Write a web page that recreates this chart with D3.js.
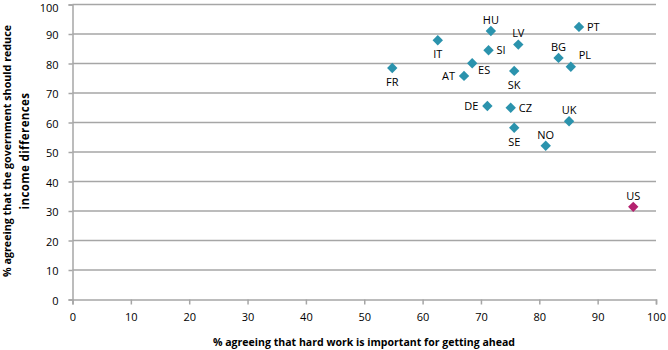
<!DOCTYPE html>
<html><head><meta charset="utf-8">
<script src="https://cdn.jsdelivr.net/npm/d3@7"></script>
<style>
body{margin:0;background:#fff;}
text{font-family:"Open Sans","Liberation Sans",sans-serif;fill:#000;}
</style></head>
<body><svg id="c" width="668" height="350"></svg>
<script>
const countries = ["HU","PT","LV","IT","SI","BG","PL","FR","ES","AT","SK","DE","CZ","UK","SE","NO","US"];
const hardWork = [71.7,86.8,76.4,62.6,71.3,83.3,85.4,54.8,68.5,67.1,75.7,71.1,75.1,85.1,75.7,81.1,96.1];
const reduceInequality = [91.0,92.4,86.4,87.9,84.5,81.9,78.9,78.5,80.1,75.8,77.5,65.6,65.0,60.4,58.2,52.1,31.4];
const labelPos = ["top","right","top","bottom","right","top","topright","bottom","bottomright","left","bottom","left","right","top","bottom","top","top"];
const xTicks = [0,10,20,30,40,50,60,70,80,90,100];
const yTicks = [0,10,20,30,40,50,60,70,80,90,100];
const xTitle = "% agreeing that hard work is important for getting ahead";
const yTitle = ["% agreeing that the government should reduce","income differences"];

const svg = d3.select("#c");
const x = d3.scaleLinear().domain([0,100]).range([72.5,656]);
const y = d3.scaleLinear().domain([0,100]).range([299.5,4.5]);
const grid = "#a6a6a6";

// gridlines
svg.append("g").selectAll("line").data(yTicks.filter(d=>d>0)).join("line")
  .attr("x1",x(0)).attr("x2",x(100)).attr("y1",d=>y(d)).attr("y2",d=>y(d))
  .attr("stroke",grid).attr("stroke-width",1.5);

// axes
const xa = svg.append("g").attr("transform",`translate(0,${y(0)})`)
  .call(d3.axisBottom(x).tickValues(xTicks).tickSize(5).tickPadding(9));
const ya = svg.append("g").attr("transform",`translate(${x(0)},0)`)
  .call(d3.axisLeft(y).tickValues(yTicks).tickSize(4).tickPadding(10));
[xa,ya].forEach(a=>{
  a.select(".domain").attr("stroke",grid).attr("stroke-width",1.5);
  a.selectAll(".tick line").attr("stroke",grid).attr("stroke-width",1.5);
  a.selectAll("text").attr("font-size",11).attr("font-family","'Open Sans',sans-serif").attr("fill","#000");
});
ya.selectAll("text").attr("dy",d=>d===100?"0.6em":"0.45em");

// titles
svg.append("text").attr("x",364).attr("y",346).attr("text-anchor","middle")
  .attr("font-size",11).attr("font-weight","bold")
  .attr("textLength",302).attr("lengthAdjust","spacingAndGlyphs").text(xTitle);
svg.append("text")
  .attr("transform","translate(11,151) rotate(-90)").attr("text-anchor","middle")
  .attr("font-size",11).attr("font-weight","bold")
  .attr("textLength",252).attr("lengthAdjust","spacingAndGlyphs").text(yTitle[0]);
svg.append("text")
  .attr("transform","translate(29,151) rotate(-90)").attr("text-anchor","middle")
  .attr("font-size",11.5).attr("font-weight","bold").attr("letter-spacing",0.4).text(yTitle[1]);

// points
const data = countries.map((c,i)=>({c,x:hardWork[i],y:reduceInequality[i],p:labelPos[i]}));
const diamond = "M0,-5.2L5.2,0L0,5.2L-5.2,0Z";
svg.append("g").selectAll("path").data(data).join("path")
  .attr("d",diamond).attr("transform",d=>`translate(${x(d.x)},${y(d.y)})`)
  .attr("fill",d=>d.c==="US"?"#b4226f":"#2b93ad");

const off = {top:[0,-11,"middle"],bottom:[0,14,"middle"],right:[8,0,"start"],left:[-9,0,"end"],topright:[14,-12,"middle"],bottomright:[12,7,"middle"]};
svg.append("g").selectAll("text").data(data).join("text")
  .attr("x",d=>x(d.x)+off[d.p][0])
  .attr("y",d=>y(d.y)+off[d.p][1]).attr("dy","0.35em")
  .attr("text-anchor",d=>off[d.p][2]).attr("font-size",11).text(d=>d.c);
</script></body></html>
